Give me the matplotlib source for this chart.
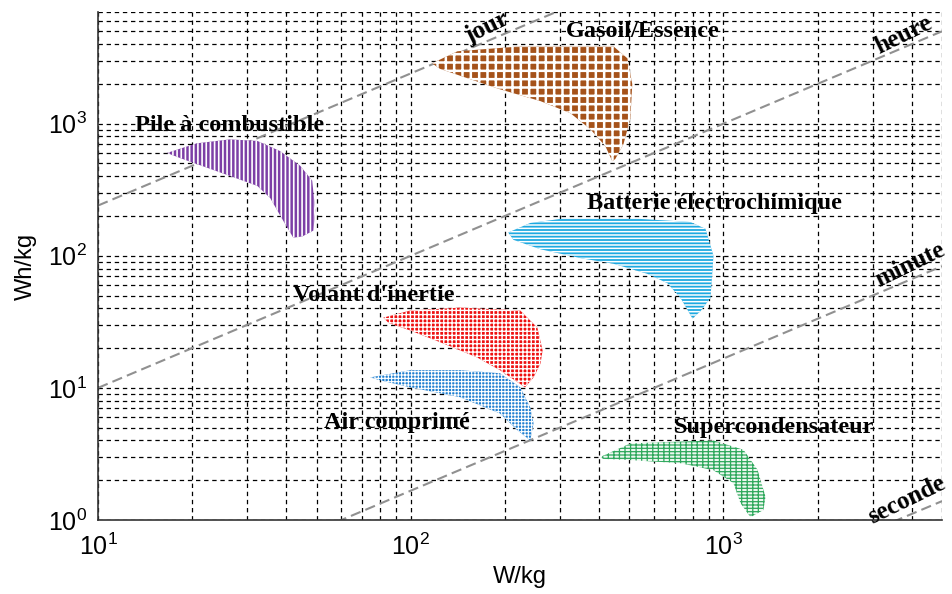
import matplotlib
matplotlib.use("Agg")
import matplotlib.pyplot as plt
import numpy as np
from matplotlib.patches import Polygon
from matplotlib.ticker import LogLocator, NullFormatter

plt.rcParams['mathtext.fontset'] = 'custom'
plt.rcParams['mathtext.rm'] = 'Liberation Sans'
plt.rcParams['mathtext.it'] = 'Liberation Sans:italic'
plt.rcParams['mathtext.bf'] = 'Liberation Sans:bold'
plt.rcParams['font.family'] = ['Liberation Sans', 'DejaVu Sans']

# ---------------- data (W/kg, Wh/kg) ----------------
pile_P = [16.6, 20.7, 26.4, 32.3, 38.2, 44.3, 48.4, 49.5, 48.8, 45.0, 42.1, 39.1, 35.5, 32.3, 26.4, 18.3]
pile_E = [600, 710, 760, 740, 620, 480, 370, 220, 155, 140, 137, 184, 274, 338, 402, 549]

gasoil_P = [117, 141, 224, 445, 493, 511, 504, 479, 451, 441, 419, 375, 324, 260, 193, 155, 124]
gasoil_E = [2860, 3530, 3845, 3845, 3120, 1990, 1100, 700, 540, 520, 676, 909, 1200, 1480, 1820, 2170, 2600]

batt_P = [205, 241, 301, 542, 784, 876, 929, 909, 844, 796, 729, 662, 571, 445, 349, 260, 213]
batt_E = [150, 177, 190, 190, 180, 160, 100, 48, 38, 33.5, 48, 62, 73, 87, 96, 112, 132]

volant_P = [81.7, 99.6, 144, 224, 254, 264, 260, 247, 232, 193, 163, 127, 99.6, 85]
volant_E = [34, 38.5, 40.5, 38.5, 28.6, 19.2, 15.3, 12.0, 10.1, 13.6, 17.0, 21.7, 27.2, 31]

air_P = [74.2, 99.6, 144, 193, 224, 241, 247, 241, 219, 193, 144, 99.6, 80]
air_E = [12.0, 13.6, 13.6, 12.9, 10.1, 7.1, 5.4, 4.0, 4.8, 6.4, 8.5, 10.1, 11.4]

super_P = [404, 504, 929, 1159, 1285, 1363, 1342, 1220, 1134, 1076, 929, 729, 504, 413]
super_E = [3.0, 3.8, 4.0, 3.4, 2.4, 1.5, 1.19, 1.05, 1.34, 1.9, 2.38, 2.69, 2.84, 2.9]

# constant-duration lines (hours)
durations_h = [24, 1, 1/60, 1/3600]
duration_labels = ['jour', 'heure', 'minute', 'seconde']
duration_label_P = [175, 3770, 3960, 3850]
duration_label_E = [5300, 4735, 85.5, 1.42]

region_labels = ['Pile à combustible', 'Gasoil/Essence', 'Batterie électrochimique',
                 "Volant d'inertie", 'Air comprimé', 'Supercondensateur']
region_label_P = [26.4, 551, 936, 75.9, 90.5, 1445]
region_label_E = [975, 4990, 247, 49.9, 5.49, 5.03]

# ---------------- figure ----------------
fig = plt.figure(figsize=(9.52, 5.94), dpi=100)
ax = fig.add_axes([0.103, 0.1246, 0.8865, 0.8552])
ax.set_xscale('log')
ax.set_yscale('log')
ax.set_xlim(10, 5000)
ax.set_ylim(1, 7000)

ax.xaxis.set_major_locator(LogLocator(base=10, numticks=10))
ax.yaxis.set_major_locator(LogLocator(base=10, numticks=10))
ax.xaxis.set_minor_locator(LogLocator(base=10, subs=np.arange(2, 10), numticks=50))
ax.yaxis.set_minor_locator(LogLocator(base=10, subs=np.arange(2, 10), numticks=50))
ax.xaxis.set_minor_formatter(NullFormatter())
ax.yaxis.set_minor_formatter(NullFormatter())

ax.grid(True, which='both', color='black', linewidth=0.9, linestyle=(0, (3.5, 3)))
ax.set_axisbelow(True)
ax.tick_params(which='both', length=0, labelsize=18, colors='black')
ax.tick_params(axis='x', pad=10)
ax.tick_params(axis='y', pad=8)
for s in ['top', 'right']:
    ax.spines[s].set_visible(False)
for s in ['left', 'bottom']:
    ax.spines[s].set_color('#333333')
    ax.spines[s].set_linewidth(1.2)

ax.set_xlabel('W/kg', fontsize=17, labelpad=4)
ax.set_ylabel('Wh/kg', fontsize=17, labelpad=8)

# duration lines
Pline = np.array([10, 5000])
for t in durations_h:
    ax.plot(Pline, Pline * t, color='#909090', linewidth=1.5, linestyle=(0, (5, 2.5)), zorder=2)


def add_region(P, E, face, hatch_color, hatch, hlw):
    verts = np.column_stack([P, E])
    ax.add_patch(Polygon(verts, closed=True, facecolor=face, edgecolor='none', linewidth=0, zorder=3))
    with plt.rc_context({'hatch.linewidth': hlw}):
        p = Polygon(verts, closed=True, facecolor='none', edgecolor=hatch_color,
                    hatch=hatch, linewidth=0, zorder=4)
        if hasattr(p, 'set_hatch_linewidth'):
            p.set_hatch_linewidth(hlw)
        ax.add_patch(p)


add_region(pile_P, pile_E, '#7d3fa6', 'white', '||||', 1.2)
add_region(gasoil_P, gasoil_E, '#a5521a', 'white', '++', 1.8)
add_region(batt_P, batt_E, '#1ea9e1', 'white', '-----', 1.1)
add_region(volant_P, volant_E, '#ee1111', 'white', '++++', 1.0)
add_region(air_P, air_E, '#1f7fd0', 'white', '+++++', 0.8)
add_region(super_P, super_E, '#eef8f1', '#2ea85c', '-----|||', 0.9)

# labels
for lab, x, y in zip(region_labels, region_label_P, region_label_E):
    ax.text(x, y, lab, family='Liberation Serif', fontweight='bold', fontsize=17.5,
            ha='center', va='center', zorder=6)

for lab, x, y in zip(duration_labels, duration_label_P, duration_label_E):
    ax.text(x, y, lab, family='Liberation Serif', fontweight='bold', fontsize=18,
            ha='center', va='center', rotation=26, zorder=6, clip_on=False)

fig.savefig('out.png', dpi=100)
